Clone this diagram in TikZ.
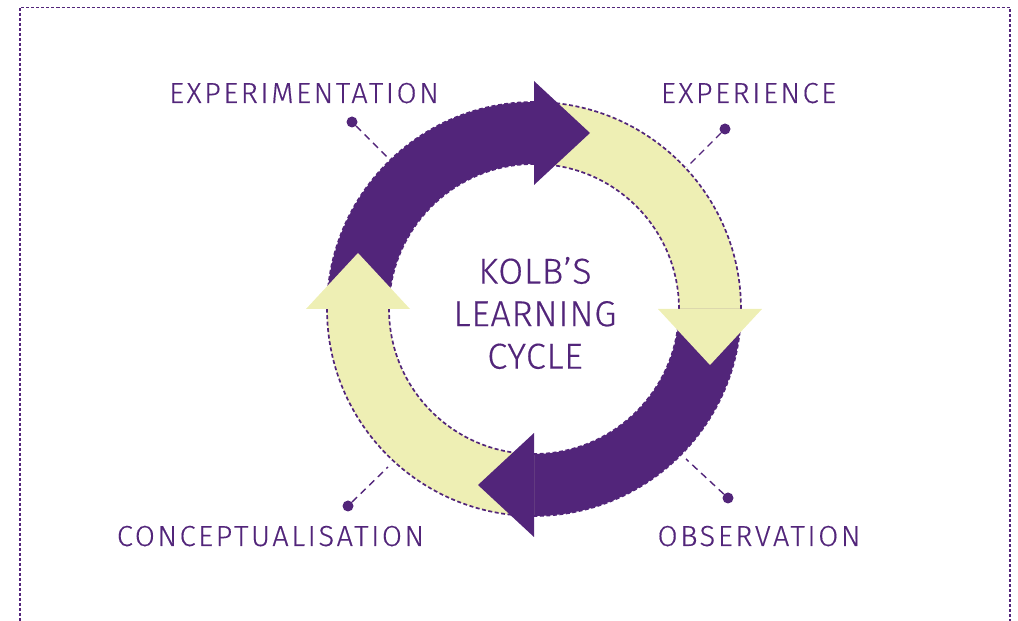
\documentclass[tikz,border=0pt]{standalone}
\usepackage{fontspec}
\usetikzlibrary{calc}
\newfontfamily\kolbfont[LetterSpace=9,FakeBold=0.4]{Fira Sans Light}
\newfontfamily\kolbtitlefont[LetterSpace=2,FakeBold=0.4]{Fira Sans Light}
\definecolor{kpurple}{RGB}{82,37,122}
\definecolor{kyellow}{RGB}{238,239,180}
\begin{document}
\begin{tikzpicture}[x=1pt,y=1pt,
  frame/.style={draw=kpurple, line width=1.5pt, dash pattern=on 3pt off 2pt},
  ringedge/.style={draw=kpurple, line width=1.7pt, dash pattern=on 4pt off 2.5pt},
  leader/.style={draw=kpurple, line width=1.4pt, dash pattern=on 7pt off 5pt},
  dotnode/.style={circle, fill=kpurple, inner sep=0pt, minimum size=11pt},
  lbl/.style={text=kpurple, font=\kolbfont\fontsize{29}{34}\selectfont, anchor=base, inner sep=0pt},
  title/.style={text=kpurple, font=\kolbtitlefont\fontsize{36}{42.5}\selectfont, align=center, inner sep=0pt},
]
\useasboundingbox (0,0) rectangle (1018,621);

% open dotted frame (no bottom edge)
\draw[frame] (20,0) -- (20,613.5) -- (1010,613.5) -- (1010,0);

\coordinate (c) at (534,312);
\def\ringout{207}
\def\ringin{145}

% ring quarters
\fill[kpurple] ($(c)+(90:\ringout)$) arc[start angle=90,end angle=180,radius=\ringout]
  -- ($(c)+(180:\ringin)$) arc[start angle=180,end angle=90,radius=\ringin] -- cycle;
\fill[kyellow] ($(c)+(0:\ringout)$) arc[start angle=0,end angle=90,radius=\ringout]
  -- ($(c)+(90:\ringin)$) arc[start angle=90,end angle=0,radius=\ringin] -- cycle;
\fill[kpurple] ($(c)+(-90:\ringout)$) arc[start angle=-90,end angle=0,radius=\ringout]
  -- ($(c)+(0:\ringin)$) arc[start angle=0,end angle=-90,radius=\ringin] -- cycle;
\fill[kyellow] ($(c)+(180:\ringout)$) arc[start angle=180,end angle=270,radius=\ringout]
  -- ($(c)+(270:\ringin)$) arc[start angle=270,end angle=180,radius=\ringin] -- cycle;

% dotted ring edges
\draw[ringedge] (c) circle[radius=\ringout];
\draw[ringedge] (c) circle[radius=\ringin];

% arrowheads
\fill[kpurple] ($(c)+(0,124)$) -- ($(c)+(0,228)$) -- ($(c)+(56,176)$) -- cycle;
\fill[kyellow] ($(c)+(124,0)$) -- ($(c)+(228,0)$) -- ($(c)+(176,-56)$) -- cycle;
\fill[kpurple] ($(c)+(0,-124)$) -- ($(c)+(0,-228)$) -- ($(c)+(-56,-176)$) -- cycle;
\fill[kyellow] ($(c)+(-124,0)$) -- ($(c)+(-228,0)$) -- ($(c)+(-176,56)$) -- cycle;

% leader lines with dots
\node[dotnode] (dexp) at (725,492) {};
\node[dotnode] (dexm) at (352,499) {};
\node[dotnode] (dcon) at (348,115) {};
\node[dotnode] (dobs) at (728,123) {};
\coordinate (rexp) at (687,454);
\coordinate (rexm) at (388,463);
\coordinate (rcon) at (388,154);
\coordinate (robs) at (686,162);
\draw[leader] (dexp) -- (rexp);
\draw[leader] (dexm) -- (rexm);
\draw[leader] (dcon) -- (rcon);
\draw[leader] (dobs) -- (robs);

% labels
\node[lbl] (lexm) at (304,518) {EXPERIMENTATION};
\node[lbl] (lexp) at (748.5,518) {EXPERIENCE};
\node[lbl] (lcon) at (270.5,75) {CONCEPTUALISATION};
\node[lbl] (lobs) at (759,75) {OBSERVATION};

\node[title] (centre) at (535,308) {KOLB’S\\LEARNING\\CYCLE};
\end{tikzpicture}
\end{document}
